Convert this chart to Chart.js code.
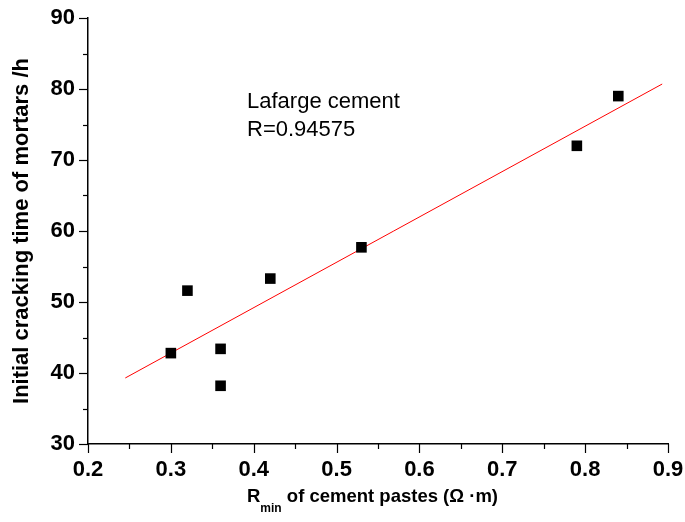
<!DOCTYPE html>
<html lang="en">
<head>
  <meta charset="UTF-8">
  <title>Initial cracking time vs Rmin</title>
  <script src="https://cdn.jsdelivr.net/npm/chart.js"></script>
  <style>
    body {
      margin: 0;
      background: #ffffff;
    }
    #wrap {
      width: 685px;
      height: 522px;
    }
  </style>
</head>
<body>
  <div id="wrap">
    <canvas id="crackChart" width="685" height="522"></canvas>
  </div>

  <script>
    // measured points
    const rMin = [0.30, 0.32, 0.36, 0.36, 0.42, 0.53, 0.79, 0.84];
    const crackTime = [42.8, 51.6, 43.4, 38.2, 53.3, 57.7, 72.0, 79.0];

    // linear fit, end points
    const fitX = [0.245, 0.893];
    const fitY = [39.3, 80.7];

    const xTicks = [0.2, 0.3, 0.4, 0.5, 0.6, 0.7, 0.8, 0.9];
    const yTicks = [30, 40, 50, 60, 70, 80, 90];

    const noteLines = ['Lafarge cement', 'R=0.94575'];

    const FONT = 'Arial, "Liberation Sans", sans-serif';

    // minor/major tick marks, axis titles and the note
    const decorPlugin = {
      id: 'decor',
      afterDraw(chart) {
        const ctx = chart.ctx;
        const x = chart.scales.x;
        const y = chart.scales.y;
        const area = chart.chartArea;
        ctx.save();
        ctx.strokeStyle = '#000';
        ctx.lineWidth = 1.2;

        for (let v = 0.2; v <= 0.9001; v += 0.05) {
          const px = Math.round(x.getPixelForValue(v)) + 0.5;
          const major = Math.abs(v * 10 - Math.round(v * 10)) < 1e-6;
          ctx.beginPath();
          ctx.moveTo(px, area.bottom);
          ctx.lineTo(px, area.bottom + (major ? 9 : 5));
          ctx.stroke();
        }
        for (let v = 30; v <= 90; v += 5) {
          const py = Math.round(y.getPixelForValue(v)) + 0.5;
          const major = v % 10 === 0;
          ctx.beginPath();
          ctx.moveTo(area.left, py);
          ctx.lineTo(area.left - (major ? 9 : 5), py);
          ctx.stroke();
        }

        ctx.fillStyle = '#000';

        // y title
        ctx.save();
        ctx.translate(22, (area.top + area.bottom) / 2);
        ctx.rotate(-Math.PI / 2);
        ctx.font = 'bold 22px ' + FONT;
        ctx.textAlign = 'center';
        ctx.textBaseline = 'middle';
        ctx.fillText('Initial cracking time of mortars /h', 0, 0);
        ctx.restore();

        // x title with subscript
        const main = 'R';
        const rest = ' of cement pastes (\u03A9 \u00B7m)';
        ctx.textBaseline = 'alphabetic';
        ctx.textAlign = 'left';
        ctx.font = 'bold 18.5px ' + FONT;
        const wR = ctx.measureText(main).width;
        ctx.font = 'bold 12px ' + FONT;
        const wSub = ctx.measureText('min').width;
        let tx = 247;
        const base = 502;
        ctx.font = 'bold 18.5px ' + FONT;
        ctx.fillText(main, tx, base);
        tx += wR;
        ctx.font = 'bold 12px ' + FONT;
        ctx.fillText('min', tx, base + 10);
        tx += wSub;
        ctx.font = 'bold 18.5px ' + FONT;
        ctx.fillText(rest, tx, base);

        // note
        ctx.font = '22px ' + FONT;
        ctx.textBaseline = 'middle';
        ctx.fillText(noteLines[0], 247, 102);
        ctx.fillText(noteLines[1], 247, 130);
        ctx.restore();
      }
    };

    function buildChart() {
      const ctx = document.getElementById('crackChart').getContext('2d');
      new Chart(ctx, {
        type: 'scatter',
        data: {
          datasets: [
            {
              label: 'fit',
              type: 'line',
              data: fitX.map((v, i) => ({ x: v, y: fitY[i] })),
              borderColor: '#ff0000',
              borderWidth: 1,
              pointRadius: 0,
              fill: false,
              order: 2
            },
            {
              label: 'Lafarge cement',
              data: rMin.map((v, i) => ({ x: v, y: crackTime[i] })),
              backgroundColor: '#000',
              borderColor: '#000',
              pointStyle: 'rect',
              pointRadius: 7.5,
              borderWidth: 0,
              order: 1
            }
          ]
        },
        options: {
          responsive: false,
          animation: false,
          layout: {
            padding: { left: 0, top: 18, right: 17, bottom: 0 }
          },
          plugins: {
            legend: { display: false },
            tooltip: { enabled: false }
          },
          scales: {
            x: {
              type: 'linear',
              min: 0.2,
              max: 0.9,
              afterBuildTicks(scale) {
                scale.ticks = xTicks.map(v => ({ value: v }));
              },
              afterFit(scale) {
                scale.height = 78;
                scale.paddingLeft = 0;
                scale.paddingRight = 0;
              },
              grid: { display: false },
              border: { display: true, color: '#000', width: 1.5 },
              ticks: {
                color: '#000',
                padding: 5,
                maxRotation: 0,
                font: { family: FONT, size: 22, weight: 'bold' },
                callback: v => v.toFixed(1)
              }
            },
            y: {
              type: 'linear',
              min: 30,
              max: 90,
              afterBuildTicks(scale) {
                scale.ticks = yTicks.map(v => ({ value: v }));
              },
              afterFit(scale) {
                scale.width = 88;
                scale.paddingTop = 0;
                scale.paddingBottom = 0;
              },
              grid: { display: false },
              border: { display: true, color: '#000', width: 1.5 },
              ticks: {
                color: '#000',
                padding: 5,
                font: { family: FONT, size: 22, weight: 'bold' }
              }
            }
          }
        },
        plugins: [decorPlugin]
      });
    }

    window.onload = buildChart;
  </script>
</body>
</html>
